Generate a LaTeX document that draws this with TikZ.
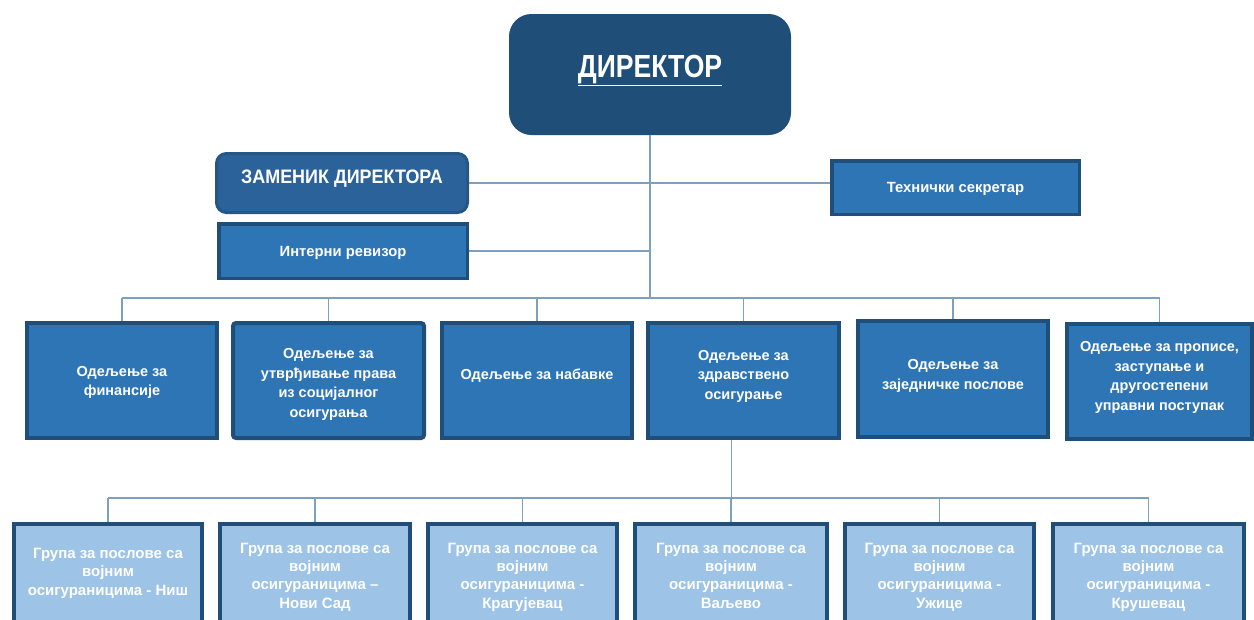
\documentclass[tikz,border=0pt]{standalone}
\usepackage{fontspec}
\setmainfont{Liberation Sans}
\usepackage{graphicx}
\definecolor{dkblue}{RGB}{31,78,121}
\definecolor{midblue}{RGB}{46,117,182}
\definecolor{depblue}{RGB}{43,98,153}
\definecolor{depedge}{RGB}{38,86,134}
\definecolor{ltblue}{RGB}{157,195,230}
\definecolor{wire}{RGB}{125,160,190}
% text block: #1 = upward offset of its visual centre, #2 = lines
\newcommand\bt[2]{\raisebox{\dimexpr#1-5.25pt\relax}[0pt][0pt]{\begin{tabular}{@{}c@{}}#2\end{tabular}}}
\tikzset{
  basebox/.style={inner sep=0pt, align=center, text=white, font=\bfseries},
  dirbox/.style={basebox, fill=dkblue, draw=dkblue, line width=1pt, rounded corners=22pt},
  depbox/.style={basebox, fill=depblue, draw=depedge, line width=3pt, rounded corners=10pt},
  midbox/.style={basebox, fill=midblue, draw=dkblue, line width=3.5pt,
     font=\bfseries\fontsize{14.8pt}{18pt}\selectfont},
  deptbox/.style={basebox, fill=midblue, draw=dkblue, line width=4pt, minimum height=115pt,
     font=\bfseries\fontsize{14.5pt}{19.5pt}\selectfont},
  grpbox/.style={basebox, fill=ltblue, draw=dkblue, line width=4pt, minimum height=114pt,
     font=\bfseries\fontsize{15pt}{18.3pt}\selectfont},
  conn/.style={draw=wire, line width=1.2pt}
}
\begin{document}
\begin{tikzpicture}[x=1pt,y=-1pt]
\useasboundingbox (0,0) rectangle (1254,619);
\coordinate (busA) at (651,298);
\coordinate (busB) at (731,498);
\begin{scope}
\clip (0,0) rectangle (1254,619);
% top nodes
\node[dirbox, minimum width=281pt, minimum height=120pt] (dir) at (650,74.5)
  {\bt{6.5pt}{\scalebox{0.83}[1]{\fontsize{32pt}{36pt}\selectfont\underline{ДИРЕКТОР}}}};
\node[depbox, minimum width=251pt, minimum height=59pt] (dep) at (342,183)
  {\bt{7pt}{\scalebox{0.92}[1]{\fontsize{19.5pt}{22pt}\selectfont ЗАМЕНИК ДИРЕКТОРА}}};
\node[midbox, minimum width=247.5pt, minimum height=53.5pt] (ts) at (955.5,187.5)
  {\bt{0pt}{Технички секретар}};
\node[midbox, minimum width=248.5pt, minimum height=54.5pt] (ia) at (343,251)
  {\bt{0pt}{Интерни ревизор}};

% departments
\node[deptbox, minimum width=190pt] (d1) at (122,380.5) {\bt{0pt}{Одељење за\\финансије}};
\node[deptbox, minimum width=191pt, rounded corners=3pt] (d2) at (328.5,380.5) {\bt{-2pt}{Одељење за\\утврђивање права\\из социјалног\\осигурања}};
\node[deptbox, minimum width=190pt] (d3) at (537,380.5) {\bt{6.5pt}{Одељење за набавке}};
\node[deptbox, minimum width=191pt] (d4) at (743.5,380.5) {\bt{6.5pt}{Одељење за\\здравствено\\осигурање}};
\node[deptbox, minimum width=190pt, minimum height=116pt] (d5) at (953,379) {\bt{5pt}{Одељење за\\заједничке послове}};
\node[deptbox, minimum width=185pt] (d6) at (1159.5,381.5) {\bt{6pt}{Одељење за прописе,\\заступање и\\другостепени\\управни поступак}};

% groups
\node[grpbox, minimum width=188pt] (g1) at (108,581) {\bt{9.5pt}{Група за послове са\\војним\\осигураницима - Ниш}};
\node[grpbox, minimum width=190pt] (g2) at (315,581) {\bt{5.5pt}{Група за послове са\\војним\\осигураницима –\\Нови Сад}};
\node[grpbox, minimum width=189pt] (g3) at (522.5,581) {\bt{5.5pt}{Група за послове са\\војним\\осигураницима -\\Крагујевац}};
\node[grpbox, minimum width=192pt] (g4) at (731,581) {\bt{5.5pt}{Група за послове са\\војним\\осигураницима -\\Ваљево}};
\node[grpbox, minimum width=189pt] (g5) at (939.5,581) {\bt{5.5pt}{Група за послове са\\војним\\осигураницима -\\Ужице}};
\node[grpbox, minimum width=191pt] (g6) at (1148.5,581) {\bt{5.5pt}{Група за послове са\\војним\\осигураницима -\\Крушевац}};
\end{scope}

% connector lines
\draw[conn] (dir.south) -- (dir.south |- busA);
\draw[conn] (dep.east) -- (ts.west |- dep.east);
\draw[conn] (ia.east) -- (dir.south |- ia.east);
\draw[conn] (d1.north |- busA) -- (d6.north |- busA);
\foreach \n in {d1,d2,d3,d4,d5,d6}{\draw[conn] (\n.north) -- (\n.north |- busA);}
\draw[conn] ([xshift=-12pt]d4.south) -- ([xshift=-12pt]d4.south |- busB);
\draw[conn] (g1.north |- busB) -- (g6.north |- busB);
\foreach \n in {g1,g2,g3,g4,g5,g6}{\draw[conn] (\n.north) -- (\n.north |- busB);}
\end{tikzpicture}
\end{document}
